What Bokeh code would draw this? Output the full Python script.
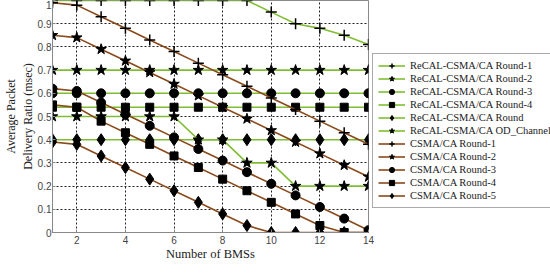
from bokeh.plotting import figure
from bokeh.models import Legend, LegendItem, FixedTicker, CustomJSTickFormatter, Range1d
from bokeh.embed import file_html
from bokeh.resources import INLINE

x_bms = [1, 2, 3, 4, 5, 6, 7, 8, 9, 10, 11, 12, 13, 14]

recal_r1 = [1, 1, 1, 1, 1, 1, 1, 1, 1, 0.95, 0.90, 0.88, 0.85, 0.81]
recal_r2 = [0.7, 0.7, 0.7, 0.7, 0.7, 0.7, 0.7, 0.7, 0.7, 0.7, 0.7, 0.7, 0.7, 0.7]
recal_r3 = [0.6, 0.6, 0.6, 0.6, 0.6, 0.6, 0.6, 0.6, 0.6, 0.6, 0.6, 0.6, 0.6, 0.6]
recal_r4 = [0.54, 0.54, 0.54, 0.54, 0.54, 0.54, 0.54, 0.54, 0.54, 0.54, 0.54, 0.54, 0.54, 0.54]
recal_r5 = [0.4, 0.4, 0.4, 0.4, 0.4, 0.4, 0.4, 0.4, 0.4, 0.4, 0.4, 0.4, 0.4, 0.4]
recal_od = [0.5, 0.5, 0.5, 0.5, 0.5, 0.5, 0.4, 0.4, 0.3, 0.3, 0.2, 0.2, 0.2, 0.2]

csma_r1 = [0.99, 0.98, 0.93, 0.88, 0.83, 0.78, 0.73, 0.68, 0.63, 0.58, 0.53, 0.48, 0.43, 0.38]
csma_r2 = [0.85, 0.84, 0.79, 0.74, 0.69, 0.64, 0.59, 0.54, 0.49, 0.44, 0.39, 0.34, 0.29, 0.24]
csma_r3 = [0.62, 0.61, 0.56, 0.51, 0.46, 0.41, 0.36, 0.31, 0.26, 0.21, 0.16, 0.11, 0.06, 0.01]
csma_r4 = [0.55, 0.54, 0.48, 0.43, 0.38, 0.33, 0.28, 0.23, 0.18, 0.13, 0.08, 0.03, 0, 0]
csma_r5 = [0.39, 0.38, 0.33, 0.28, 0.23, 0.18, 0.13, 0.08, 0.03, 0, 0, 0, 0, 0]

x_ticks = [2, 4, 6, 8, 10, 12, 14]
y_ticks = [0, 0.1, 0.2, 0.3, 0.4, 0.5, 0.6, 0.7, 0.8, 0.9, 1]

series = [
    ("ReCAL-CSMA/CA Round-1", recal_r1, "green", "cross"),
    ("ReCAL-CSMA/CA Round-2", recal_r2, "green", "star"),
    ("ReCAL-CSMA/CA Round-3", recal_r3, "green", "circle"),
    ("ReCAL-CSMA/CA Round-4", recal_r4, "green", "square"),
    ("ReCAL-CSMA/CA Round", recal_r5, "green", "diamond"),
    ("ReCAL-CSMA/CA OD_Channel", recal_od, "green", "star"),
    ("CSMA/CA Round-1", csma_r1, "brown", "cross"),
    ("CSMA/CA Round-2", csma_r2, "brown", "star"),
    ("CSMA/CA Round-3", csma_r3, "brown", "circle"),
    ("CSMA/CA Round-4", csma_r4, "brown", "square"),
    ("CSMA/CA Round-5", csma_r5, "brown", "diamond"),
]

colors = {"green": "#80bd34", "brown": "#8a4a1c"}
sizes = {"cross": 11, "star": 11, "circle": 9, "square": 8, "diamond": 12}

p = figure(width=534, height=259, output_backend="svg", toolbar_location=None,
           frame_width=316, frame_height=232,
           x_range=Range1d(1, 14), y_range=Range1d(0, 1),
           min_border_left=40, min_border_right=173, min_border_top=0, min_border_bottom=27)

p.background_fill_color = "white"
p.border_fill_color = "white"
p.outline_line_color = "#888888"

items = []
for label, ys, col, mk in series:
    lr = p.line(x_bms, ys, line_color=colors[col], line_width=1.6)
    if mk == "cross":
        sr = p.scatter(x_bms, ys, marker=mk, size=sizes[mk], line_color="black", line_width=1.5)
    else:
        sr = p.scatter(x_bms, ys, marker=mk, size=sizes[mk], fill_color="black", line_color="black")
    items.append(LegendItem(label=label, renderers=[lr, sr]))

p.xaxis.ticker = FixedTicker(ticks=x_ticks)
p.yaxis.ticker = FixedTicker(ticks=y_ticks)
p.yaxis.formatter = CustomJSTickFormatter(code="return tick.toFixed(1).replace(/\\.0$/, '');")

for ax in (p.xaxis, p.yaxis):
    ax.axis_line_color = "#888888"
    ax.major_tick_line_color = "#888888"
    ax.major_tick_in = 3
    ax.major_tick_out = 0
    ax.minor_tick_line_color = None
    ax.major_label_text_font = "Liberation Sans"
    ax.major_label_text_font_size = "10px"
    ax.major_label_text_color = "#444444"
    ax.axis_label_text_font = "Liberation Serif"
    ax.axis_label_text_font_size = "12px"
    ax.axis_label_text_font_style = "normal"
    ax.axis_label_text_color = "#222222"
    ax.major_label_standoff = 1
    ax.axis_label_standoff = 0

p.xaxis.major_label_standoff = 3
p.xaxis.axis_label_text_font_size = "12.5px"
p.xaxis.axis_label = "Number of BMSs"
p.yaxis.axis_label = "Average Packet\nDelivery Ratio (msec)"

p.xgrid.ticker = FixedTicker(ticks=x_ticks)
p.ygrid.ticker = FixedTicker(ticks=y_ticks)
for g in (p.xgrid, p.ygrid):
    g.grid_line_color = "#222222"
    g.grid_line_dash = "2 2"
    g.grid_line_width = 1

legend = Legend(items=items, location=(4, 24))
legend.label_text_font = "Liberation Serif"
legend.label_text_font_size = "10.5px"
legend.label_text_color = "#222222"
legend.glyph_width = 27
legend.glyph_height = 13
legend.label_height = 13
legend.spacing = 0
legend.padding = 5
legend.margin = 0
legend.label_standoff = 5
legend.border_line_color = "#555555"
legend.background_fill_color = "white"
p.add_layout(legend, "right")

open("out.html", "w").write(file_html(p, INLINE))
